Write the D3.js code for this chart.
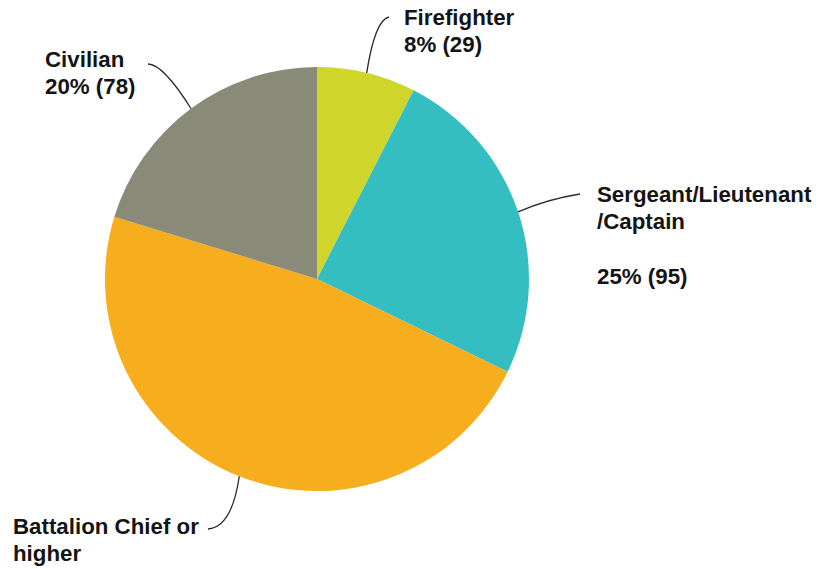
<!DOCTYPE html>
<html>
<head>
<meta charset="utf-8">
<script src="https://cdn.jsdelivr.net/npm/d3@7"></script>
<style>
  html, body { margin: 0; padding: 0; background: #fff; }
  svg { display: block; }
  text { font-family: "Liberation Sans", Arial, sans-serif; font-weight: bold; fill: #141414; }
</style>
</head>
<body>
<svg id="chart" width="820" height="569"></svg>
<script>
// Respondents by rank
const categories = ["Firefighter", "Sergeant/Lieutenant/Captain", "Battalion Chief or higher", "Civilian"];
const counts = [29, 95, 183, 78];
const labelLines = [
  ["Firefighter", "8% (29)"],
  ["Sergeant/Lieutenant", "/Captain", "", "25% (95)"],
  ["Battalion Chief or", "higher"],
  ["Civilian", "20% (78)"]
];
const colors = ["#cfd52b", "#34bec1", "#f6ae1e", "#8a8a79"];

// Label placement: text anchor point, leader-line end and bend control point
const labelLayout = [
  { x: 404, y: 25, end: [389, 17], ctrl: [375, 20] },
  { x: 597, y: 202, end: [580, 194], ctrl: [548, 199] },
  { x: 13, y: 534, end: [208, 529], ctrl: [232, 527] },
  { x: 45, y: 67, end: [148, 64], ctrl: [163, 64] }
];

const cx = 317, cy = 279, radius = 212;
const svg = d3.select("#chart");
const g = svg.append("g").attr("transform", `translate(${cx},${cy})`);

const pie = d3.pie().sort(null).value(d => d);
const arcs = pie(counts);
const arc = d3.arc().innerRadius(0).outerRadius(radius);

g.selectAll("path.slice")
  .data(arcs)
  .join("path")
  .attr("class", "slice")
  .attr("d", arc)
  .attr("fill", (d, i) => colors[i]);

// Leader lines from the middle of each slice's outer edge to its label
svg.selectAll("path.leader")
  .data(arcs)
  .join("path")
  .attr("class", "leader")
  .attr("fill", "none")
  .attr("stroke", "#2a2a2a")
  .attr("stroke-width", 1.3)
  .attr("d", (d, i) => {
    const a = (d.startAngle + d.endAngle) / 2;
    const sx = cx + radius * Math.sin(a);
    const sy = cy - radius * Math.cos(a);
    const L = labelLayout[i];
    const p = d3.path();
    p.moveTo(sx, sy);
    p.quadraticCurveTo(L.ctrl[0], L.ctrl[1], L.end[0], L.end[1]);
    return p.toString();
  });

// Labels
const labels = svg.selectAll("text.label")
  .data(arcs)
  .join("text")
  .attr("class", "label")
  .attr("x", (d, i) => labelLayout[i].x)
  .attr("y", (d, i) => labelLayout[i].y)
  .style("font-size", "22.3px");

labels.each(function(d, i) {
  const t = d3.select(this);
  labelLines[i].forEach((line, j) => {
    t.append("tspan")
      .attr("x", labelLayout[i].x)
      .attr("y", labelLayout[i].y + j * 27.2)
      .text(line);
  });
});
</script>
</body>
</html>
